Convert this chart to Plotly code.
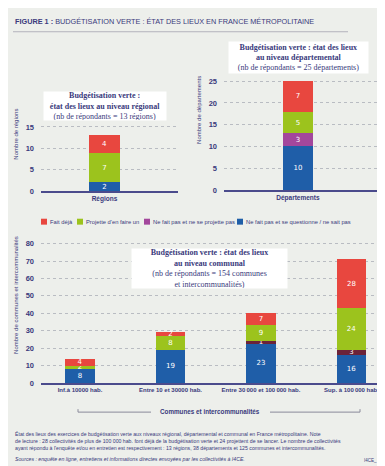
import plotly.graph_objects as go

W, H = 385, 466

# ---------------- data ----------------
series_labels = ["Fait déjà", "Projette d'en faire un",
                 "Ne fait pas et ne se projette pas",
                 "Ne fait pas et se questionne / ne sait pas"]

reg_cat = ["Régions"]
reg_fait = [4]
reg_proj = [7]
reg_nefait = [0]
reg_quest = [2]

dep_cat = ["Départements"]
dep_fait = [7]
dep_proj = [5]
dep_nefait = [3]
dep_quest = [10]

com_cat = ["Inf.à 10000 hab.", "Entre 10 et 30000 hab.",
           "Entre 30\u202f000 et 100\u202f000 hab.", "Sup. à 100\u202f000 hab."]
com_fait = [4, 2, 7, 28]
com_proj = [2, 8, 9, 24]
com_nefait = [0, 0, 1, 3]
com_quest = [8, 19, 23, 16]

reg_ticks = [0, 5, 10, 15]
dep_ticks = [0, 5, 10, 15, 20, 25]
com_ticks = [0, 10, 20, 30, 40, 50, 60, 70, 80]

# ---------------- style ----------------
NAVY = "#3a3a7c"
BG = "#edefeb"
C_FAIT = "#e8473f"
C_PROJ = "#9cc31d"
C_NEFAIT = "#a3479c"
C_NEFAIT_COM = "#6b2339"
C_QUEST = "#1f5ea8"
SANS = "Liberation Sans"
SERIF = "Liberation Serif"


def px(x, y):
    return x / W, 1 - y / H


def lab(vals):
    return [str(v) if v else "" for v in vals]


fig = go.Figure()


def add_stack(cat, quest, nefait, proj, fait, xa, ya, width, nefait_color):
    for vals, col in [(quest, C_QUEST), (nefait, nefait_color),
                      (proj, C_PROJ), (fait, C_FAIT)]:
        fig.add_trace(go.Bar(
            x=cat, y=vals, xaxis=xa, yaxis=ya, width=width,
            marker=dict(color=col, line=dict(width=0)),
            text=lab(vals), textposition="inside", insidetextanchor="middle",
            textangle=0,
            textfont=dict(family="DejaVu Sans", size=7, color="white"),
            showlegend=False, hoverinfo="x+y"))


add_stack(reg_cat, reg_quest, reg_nefait, reg_proj, reg_fait, "x", "y", 0.226, C_NEFAIT)
add_stack(dep_cat, dep_quest, dep_nefait, dep_proj, dep_fait, "x2", "y2", 0.192, C_NEFAIT)
add_stack(com_cat, com_quest, com_nefait, com_proj, com_fait, "x3", "y3", 0.33, C_NEFAIT_COM)

tickfont_y = dict(family=SANS, size=7.5, color=NAVY, weight="bold")
tickfont_x = dict(family=SANS, size=6, color=NAVY, weight="bold")
grid = dict(showgrid=True, gridcolor="#b9bcc2", griddash="dot", gridwidth=1,
            zeroline=False, ticks="", ticklabelstandoff=6, tickfont=tickfont_y,
            fixedrange=True)
xcommon = dict(type="category", showline=True, linecolor="#4b4b8c", linewidth=1.5,
               showgrid=False, ticks="", tickfont=tickfont_x, fixedrange=True)

fig.update_layout(
    width=W, height=H, margin=dict(l=0, r=0, t=0, b=0),
    paper_bgcolor=BG, plot_bgcolor=BG, barmode="stack",
    uniformtext=dict(minsize=7, mode="show"),
    showlegend=False,
    xaxis=dict(domain=[33 / W, 170 / W], range=[-0.4635, 0.5365], anchor="y",
               **{**xcommon, "tickfont": dict(family=SANS, size=6.5, color=NAVY, weight="bold")}),
    yaxis=dict(domain=[1 - 185 / H, 1 - 115 / H], range=[0, 16.2], anchor="x",
               tickvals=reg_ticks, **grid),
    xaxis2=dict(domain=[216 / W, 372 / W], range=[-0.474, 0.526], anchor="y2",
                **{**xcommon, "tickfont": dict(family=SANS, size=6.5, color=NAVY, weight="bold")}),
    yaxis2=dict(domain=[1 - 184 / H, 1 - 70 / H], range=[0, 25.9], anchor="x2",
                tickvals=dep_ticks, **grid),
    xaxis3=dict(domain=[33 / W, 375 / W], range=[-0.431, 3.348], anchor="y3", **xcommon),
    yaxis3=dict(domain=[1 - 379 / H, 1 - 232 / H], range=[0, 83.5], anchor="x3",
                tickvals=com_ticks, **grid),
)

ann = []
shapes = []


def text(x, y, t, size, xanchor="left", color=NAVY, family=SANS, angle=0, **kw):
    xx, yy = px(x, y)
    ann.append(dict(x=xx, y=yy, xref="paper", yref="paper", text=t, showarrow=False,
                    xanchor=xanchor, yanchor="middle", textangle=angle,
                    font=dict(family=family, size=size, color=color), **kw))


# title
text(5, 14, "<b>FIGURE 1 :</b> BUDGÉTISATION VERTE : ÉTAT DES LIEUX EN FRANCE MÉTROPOLITAINE", 7.3)
x0, y0 = px(5, 24)
x1, _ = px(340, 24)
shapes.append(dict(type="line", xref="paper", yref="paper", x0=x0, x1=x1, y0=y0, y1=y0,
                   line=dict(color="#b3b3bd", width=1)))

# axis titles
text(8, 128, "Nombre de régions", 6, xanchor="center", angle=-90)
text(191, 103, "Nombre de départements", 6, xanchor="center", angle=-90)
text(8, 290, "Nombre de communes et intercommunalités", 6, xanchor="center", angle=-90)

# info boxes
def box(cx, cy, w, h, t):
    xx, yy = px(cx, cy)
    ann.append(dict(x=xx, y=yy, xref="paper", yref="paper", text=t, showarrow=False,
                    xanchor="center", yanchor="middle", width=w, height=h, align="center",
                    bgcolor="white", borderpad=0,
                    font=dict(family=SERIF, size=8, color=NAVY)))


box(97, 99, 122, 28, "<b>Budgétisation verte :<br>état des lieux au niveau régional</b><br>(nb de répondants = 13 régions)")
box(290, 50, 139, 31, "<b>Budgétisation verte : état des lieux<br>au niveau départemental</b><br>(nb de répondants = 25 départements)")
box(202, 263, 155, 39, "<b>Budgétisation verte : état des lieux<br>au niveau communal</b><br>(nb de répondants = 154 communes<br>et intercommunalités)")

# legend
leg_x = [33, 69, 136, 229]
leg_c = [C_FAIT, C_PROJ, C_NEFAIT, C_QUEST]
for lx, lc, lt in zip(leg_x, leg_c, series_labels):
    a0, b0 = px(lx, 213)
    a1, b1 = px(lx + 6, 219)
    shapes.append(dict(type="rect", xref="paper", yref="paper", x0=a0, x1=a1, y0=b1, y1=b0,
                       fillcolor=lc, line=dict(width=0)))
    text(lx + 7, 216, lt, 5.8)

# bracket under communal chart
for (xa, xb, xt) in [(70, 143, 70), (262, 352, 352)]:
    a0, yb = px(xa, 408.5)
    a1, _ = px(xb, 408.5)
    shapes.append(dict(type="line", xref="paper", yref="paper", x0=a0, x1=a1, y0=yb, y1=yb,
                       line=dict(color="#8a8a9a", width=1)))
    t0, ty0 = px(xt, 405.5)
    shapes.append(dict(type="line", xref="paper", yref="paper", x0=t0, x1=t0, y0=yb, y1=ty0,
                       line=dict(color="#8a8a9a", width=1)))
text(202, 408, "<b>Communes et intercommunalités</b>", 6.3, xanchor="center")

# footer
foot = ("État des lieux des exercices de budgétisation verte aux niveaux régional, départemental et communal en France métropolitaine. Note<br>"
        "de lecture : 28 collectivités de plus de 100 000 hab. font déjà de la budgétisation verte et 24 projettent de se lancer. Le nombre de collectivités<br>"
        "ayant répondu à l'enquête et/ou en entretien est respectivement : 13 régions, 38 départements et 125 communes et intercommunalités.")
xx, yy = px(5, 438)
ann.append(dict(x=xx, y=yy, xref="paper", yref="paper", text=foot, showarrow=False,
                xanchor="left", yanchor="middle", align="left",
                font=dict(family=SANS, size=5.2, color=NAVY)))
text(5, 456, "<i>Sources : enquête en ligne, entretiens et informations directes envoyées par les collectivités à I4CE.</i>", 5.2)
text(354, 457, "I4CE_", 4.5)

fig.update_layout(annotations=ann, shapes=shapes)
fig.write_html("out.html")
